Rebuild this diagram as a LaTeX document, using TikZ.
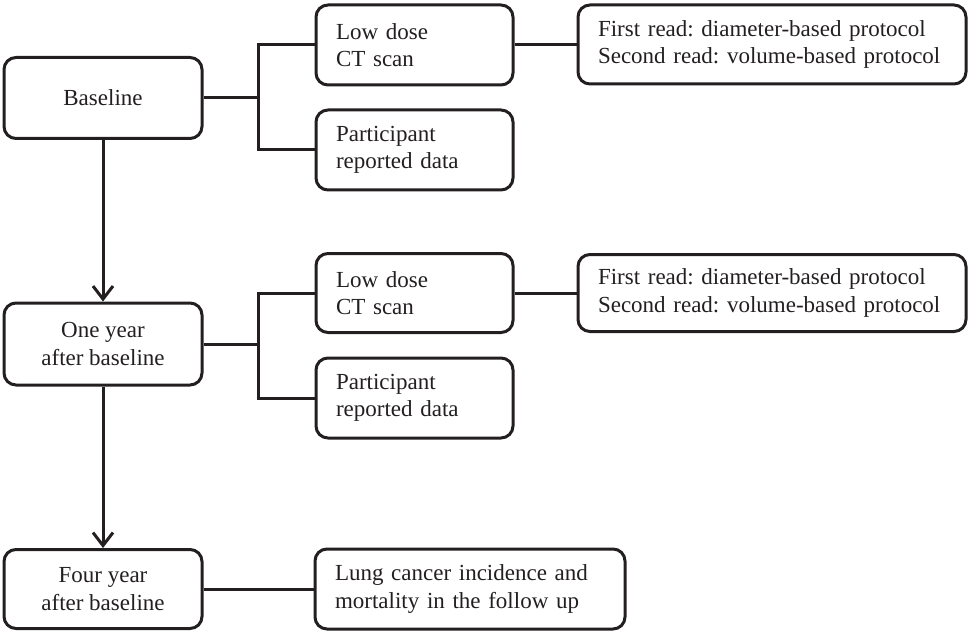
\documentclass[tikz,border=0pt]{standalone}
\usepackage{fontspec}
\setmainfont{Liberation Serif}
\usetikzlibrary{arrows.meta}
\definecolor{ink}{RGB}{35,31,32}
\begin{document}
\frenchspacing
\hyphenpenalty=10000
\begin{tikzpicture}[x=1pt,y=-1pt,line width=3pt,draw=ink,
  font=\fontsize{23}{27.5}\selectfont,text=ink]
  \useasboundingbox (0,0) rectangle (969,631);
  \begin{scope}[every node/.style={draw=ink,line width=3pt,rounded corners=12pt,inner sep=0pt}]
  % time points
  \node[minimum width=198pt,minimum height=81pt,align=center] (base) at (103,98) {Baseline};
  \node[minimum width=198pt,minimum height=82pt,align=center] (one) at (103,344) {One year\\after baseline};
  \node[minimum width=198pt,minimum height=79pt,align=center] (four) at (103,589) {Four year\\after baseline};
  \end{scope}
  \begin{scope}[every node/.style={draw=ink,line width=3pt,rounded corners=12pt,inner xsep=20pt,inner ysep=0pt,align=left}]
  \node[text width=157pt,minimum height=80pt] (ct1) at (414.5,45) {Low dose\\CT scan};
  \node[text width=157pt,minimum height=80pt] (part1) at (414.5,150) {Participant\\reported data};
  \node[text width=348pt,minimum height=79pt] (read1) at (772,44.5) {First read: diameter-based protocol\\Second read: volume-based protocol};
  \node[text width=157pt,minimum height=79pt] (ct2) at (414.5,293) {Low dose\\CT scan};
  \node[text width=157pt,minimum height=80pt] (part2) at (414.5,398) {Participant\\reported data};
  \node[text width=348pt,minimum height=77pt] (read2) at (772,293) {First read: diameter-based protocol\\Second read: volume-based protocol};
  \node[text width=270pt,minimum height=80pt] (lung) at (470,589) {Lung cancer incidence and\\mortality in the follow up};
  \end{scope}
  \coordinate (j1) at (258,98);
  \coordinate (j2) at (258,344);
  % branches
  \draw (base.east) -- (j1);
  \draw (ct1.west) -| (j1) |- (part1.west);
  \draw (ct1.east) -- (ct1.east -| read1.west);
  \draw (one.east) -- (j2);
  \draw (ct2.west) -| (j2) |- (part2.west);
  \draw (ct2.east) -- (ct2.east -| read2.west);
  \draw (four.east) -- (lung.west);
  % follow up arrows
  \begin{scope}[every edge/.style={draw=ink,line width=3pt,-{Straight Barb[length=13pt,width=20pt]}}]
  \path (base) edge (one);
  \path (one) edge (four);
  \end{scope}
\end{tikzpicture}
\end{document}
